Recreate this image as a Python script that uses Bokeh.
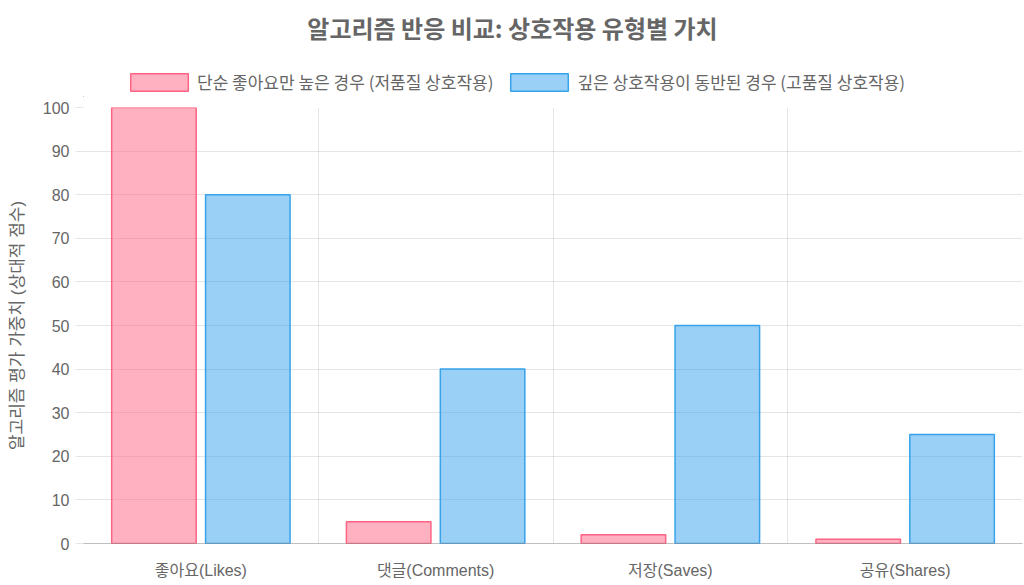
import numpy as np
from bokeh.plotting import figure
from bokeh.layouts import column
from bokeh.models import (ColumnDataSource, Range1d, FixedTicker, LinearAxis,
                          Legend, LegendItem, Grid, Label)
from bokeh.transform import dodge
from bokeh.embed import file_html
from bokeh.resources import INLINE

categories = ["좋아요(Likes)", "댓글(Comments)", "저장(Saves)", "공유(Shares)"]
low_quality = [100, 5, 2, 1]
high_quality = [80, 40, 50, 25]
series_names = ["단순 좋아요만 높은 경우 (저품질 상호작용)",
                "깊은 상호작용이 동반된 경우 (고품질 상호작용)"]
title_text = "알고리즘 반응 비교: 상호작용 유형별 가치"
y_title = "알고리즘 평가 가중치 (상대적 점수)"
y_ticks = list(range(0, 101, 10))

FONT = "Liberation Sans, 'Noto Sans CJK KR'"
KFONT = "'Noto Sans CJK KR'"
GRAY = "#666666"
GRID = "rgba(0,0,0,0.1)"
PINK = "#FF6384"
BLUE = "#36A2EB"

W = 1024
H = 585
TOP_H = 97
LEFT = 83
RIGHT = 2

n = len(categories)
centers = [float(c) for c in np.arange(n) + 0.5]
src = ColumnDataSource(dict(x=centers, low=low_quality, high=high_quality))

# ---------- header (title + legend) ----------
head = figure(width=W, height=TOP_H, output_backend="svg", toolbar_location=None,
              x_range=Range1d(LEFT, W - RIGHT), y_range=Range1d(1000, 1000 + TOP_H),
              x_axis_location=None, y_axis_location=None,
              min_border_left=LEFT, min_border_right=RIGHT, min_border_top=0,
              min_border_bottom=0)
head.outline_line_color = None
head.grid.visible = False
head.add_layout(Label(x=W / 2, y=1000 + TOP_H - 27, text=title_text,
                      text_align="center", text_baseline="middle", text_font=KFONT,
                      text_font_size="24px", text_font_style="bold", text_color=GRAY))
# legend proxies: same data, outside the header's visible y range
d1 = head.vbar(x="x", top="low", width=0.36, source=src,
               fill_color=PINK, fill_alpha=0.5, line_color=PINK, line_width=1.5)
d2 = head.vbar(x="x", top="high", width=0.36, source=src,
               fill_color=BLUE, fill_alpha=0.5, line_color=BLUE, line_width=1.5)
legend = Legend(items=[LegendItem(label=series_names[0], renderers=[d1]),
                       LegendItem(label=series_names[1], renderers=[d2])],
                orientation="horizontal", location=(40, 3))
legend.label_text_font = KFONT
legend.label_text_font_size = "17px"
legend.label_text_color = GRAY
legend.glyph_width = 72
legend.glyph_height = 22
legend.spacing = 10
legend.label_standoff = 2
legend.border_line_color = None
legend.background_fill_alpha = 0
legend.margin = 0
legend.padding = 0
head.add_layout(legend, "center")

# ---------- main chart ----------
p = figure(width=W, height=H - TOP_H, output_backend="svg", toolbar_location=None,
           x_range=Range1d(0, n), y_range=Range1d(0, 100),
           x_axis_location=None, y_axis_location="left",
           min_border_left=LEFT, min_border_right=RIGHT, min_border_top=10,
           min_border_bottom=42)
p.outline_line_color = None

p.vbar(x=dodge("x", -0.2, range=p.x_range), top="low", width=0.36, source=src,
       fill_color=PINK, fill_alpha=0.5, line_color=PINK, line_width=1.5)
p.vbar(x=dodge("x", 0.2, range=p.x_range), top="high", width=0.36, source=src,
       fill_color=BLUE, fill_alpha=0.5, line_color=BLUE, line_width=1.5)

ya = p.yaxis[0]
ya.ticker = FixedTicker(ticks=y_ticks)
ya.axis_line_color = None
ya.major_tick_out = 8
ya.major_tick_in = 0
ya.major_tick_line_color = GRID
ya.minor_tick_line_color = None
ya.major_label_text_font = FONT
ya.major_label_text_font_size = "16px"
ya.major_label_text_color = GRAY
ya.major_label_standoff = 6
ya.axis_label = y_title
ya.axis_label_text_font = FONT
ya.axis_label_text_font_size = "17px"
ya.axis_label_text_font_style = "normal"
ya.axis_label_text_color = GRAY
ya.axis_label_standoff = 13

xa = LinearAxis(ticker=FixedTicker(ticks=centers))
xa.major_label_overrides = {c: lab for c, lab in zip(centers, categories)}
xa.axis_line_color = "rgba(0,0,0,0.25)"
xa.major_tick_out = 0
xa.major_tick_in = 0
xa.major_tick_line_color = None
xa.minor_tick_line_color = None
xa.major_label_text_font = FONT
xa.major_label_text_font_size = "16px"
xa.major_label_text_color = GRAY
xa.major_label_standoff = 18
p.add_layout(xa, "below")

p.xgrid.visible = False
p.ygrid.visible = False
p.add_layout(Grid(dimension=0, ticker=FixedTicker(ticks=list(range(n + 1))),
                  grid_line_color=GRID))
p.add_layout(Grid(dimension=1, ticker=FixedTicker(ticks=y_ticks), grid_line_color=GRID))

layout = column(head, p, spacing=0)
open("out.html", "w").write(file_html(layout, INLINE))
